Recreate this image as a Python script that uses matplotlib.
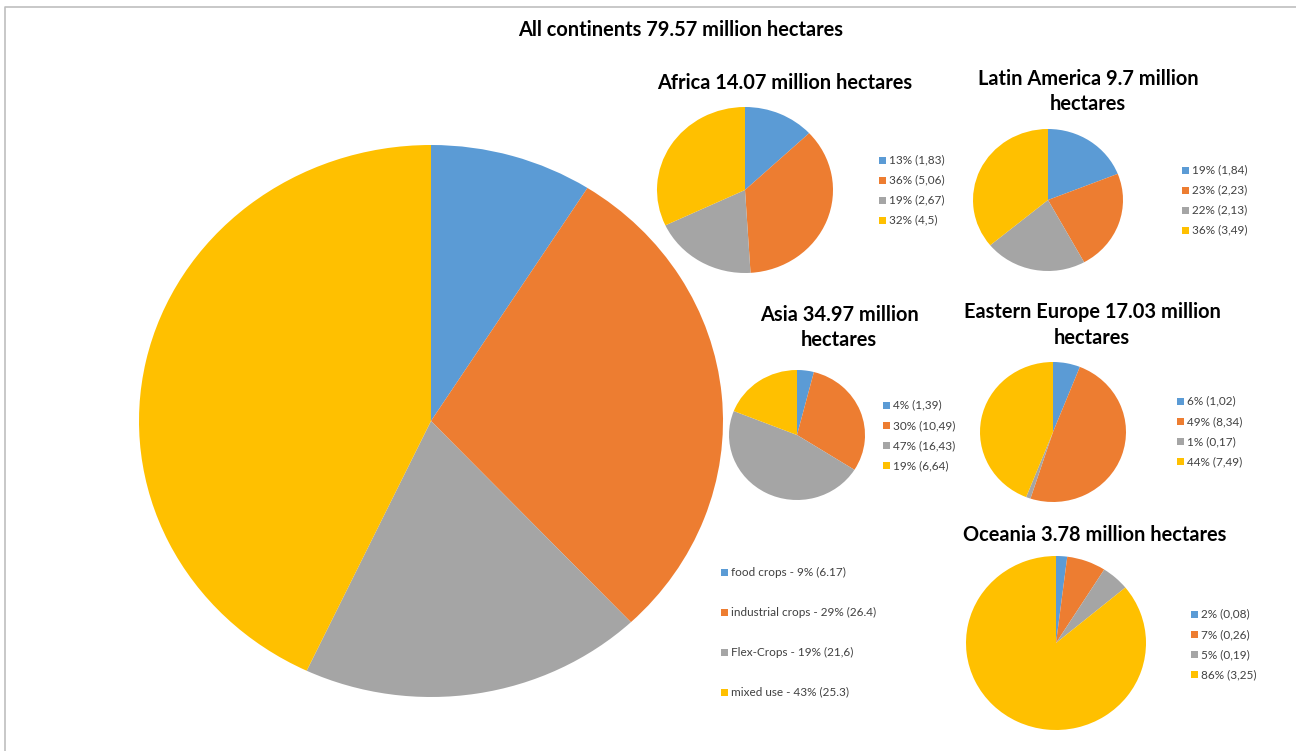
import matplotlib
matplotlib.use("Agg")
import matplotlib.pyplot as plt
from matplotlib.patches import Rectangle
from matplotlib.lines import Line2D

W, H = 1296, 751
plt.rcParams['font.family'] = ['Lato', 'DejaVu Sans']

colors = ['#5B9BD5', '#ED7D31', '#A5A5A5', '#FFC000']

main_title = "All continents 79.57 million hectares"
main_pct = [9, 29, 19, 43]
main_labels = ["food crops - 9% (6.17)", "industrial crops - 29% (26.4)",
               "Flex-Crops - 19% (21,6)", "mixed use - 43% (25.3)"]

africa_title = "Africa 14.07 million hectares"
africa_pct = [13, 36, 19, 32]
africa_val = ["1,83", "5,06", "2,67", "4,5"]

latam_title = "Latin America 9.7 million\nhectares"
latam_pct = [19, 23, 22, 36]
latam_val = ["1,84", "2,23", "2,13", "3,49"]

asia_title = "Asia 34.97 million\nhectares"
asia_pct = [4, 30, 47, 19]
asia_val = ["1,39", "10,49", "16,43", "6,64"]

eeu_title = "Eastern Europe 17.03 million\nhectares"
eeu_pct = [6, 49, 1, 44]
eeu_val = ["1,02", "8,34", "0,17", "7,49"]

oce_title = "Oceania 3.78 million hectares"
oce_pct = [2, 7, 5, 86]
oce_val = ["0,08", "0,26", "0,19", "3,25"]

fig = plt.figure(figsize=(W / 100, H / 100), dpi=100)


def fx(x):
    return x / W


def fy(y):
    return 1 - y / H


def pie(cx, cy, rx, ry, values):
    ax = fig.add_axes([fx(cx - rx), fy(cy + ry), 2 * rx / W, 2 * ry / H])
    ax.pie(values, colors=colors, startangle=90, counterclock=False,
           radius=1, wedgeprops=dict(linewidth=0))
    ax.set_aspect('auto')
    ax.set_xlim(-1, 1)
    ax.set_ylim(-1, 1)
    ax.axis('off')


def legend(x, y0, dy, labels, fs=8.5, sq=7):
    for i, lab in enumerate(labels):
        y = y0 + i * dy
        fig.patches.append(Rectangle((fx(x), fy(y + sq / 2)), sq / W, sq / H,
                                     transform=fig.transFigure,
                                     facecolor=colors[i], edgecolor='none'))
        fig.text(fx(x + sq + 3), fy(y), lab, fontsize=fs, color='#404040',
                 ha='left', va='center')


def title(x, y, s, fs=14.4):
    fig.text(fx(x), fy(y), s, fontsize=fs, fontweight='bold', color='#000000',
             ha='center', va='center', linespacing=1.33)


def labs(pct, val):
    return [f"{p}% ({v})" for p, v in zip(pct, val)]


# border
fig.lines.append(Line2D([fx(5), fx(5), fx(W)], [0, fy(7), fy(7)],
                        transform=fig.transFigure, color='#BFBFBF', lw=1.2))

title(681, 30, main_title)
pie(431, 421, 292, 276, main_pct)
legend(721, 572, 40, main_labels)

title(785, 83, africa_title)
pie(745, 190, 88, 83, africa_pct)
legend(879, 160, 20, labs(africa_pct, africa_val))

title(1088, 91.5, latam_title)
pie(1048, 200, 75, 71, latam_pct)
legend(1182, 170, 20, labs(latam_pct, latam_val))

title(839, 327.5, asia_title)
pie(797, 435, 68, 65, asia_pct)
legend(883, 405, 20.3, labs(asia_pct, asia_val))

title(1092, 325, eeu_title)
pie(1053, 432, 73, 70, eeu_pct)
legend(1177, 401, 20.3, labs(eeu_pct, eeu_val))

title(1095, 535, oce_title)
pie(1056, 643, 90, 87, oce_pct)
legend(1191, 614, 20.3, labs(oce_pct, oce_val))

fig.savefig("out.png", dpi=100, facecolor='white')
